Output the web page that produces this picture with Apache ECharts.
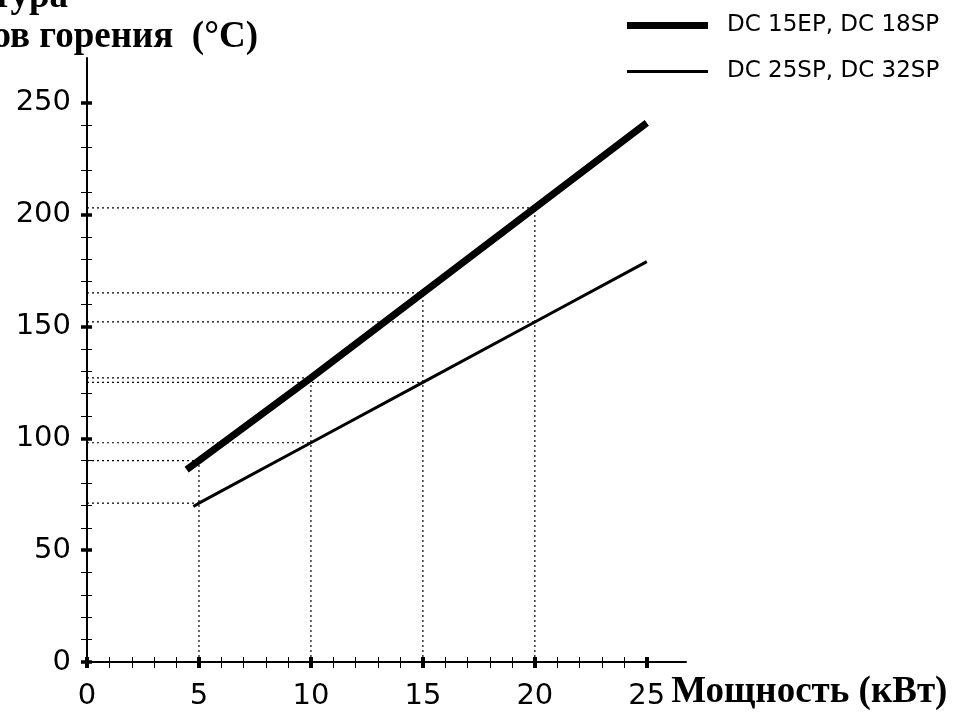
<!DOCTYPE html>
<html><head><meta charset="utf-8">
<script src="https://cdn.jsdelivr.net/npm/echarts@6/dist/echarts.min.js"></script>
<style>html,body{margin:0;padding:0;background:#fff}#c{width:978px;height:712px}</style>
</head><body><div id="c"></div>
<script>
// ---- data ----
const seriesNames = ['DC 15EP, DC 18SP', 'DC 25SP, DC 32SP'];
const powerThick = [4.45, 5, 10, 15, 20, 25];
const tempThick  = [86, 90, 127, 165, 203, 241];
const powerThin  = [4.75, 5, 10, 15, 20, 25];
const tempThin   = [69.5, 71, 98, 125, 152, 179];
// readings marked with dotted guide lines
const readingPower = [5, 10, 15, 20];
const readingThick = [90, 127, 165, 203];
const readingThin  = [71, 98, 125, 152];
// ticks
const xMajorTicks = [0, 5, 10, 15, 20, 25];
const xMinorTicks = [1, 2, 3, 4, 6, 7, 8, 9, 11, 12, 13, 14, 16, 17, 18, 19, 21, 22, 23, 24];
const yMajorTicks = [0, 50, 100, 150, 200, 250];
const yMinorTicks = [10, 20, 30, 40, 60, 70, 80, 90, 110, 120, 130, 140, 160, 170, 180, 190, 210, 220, 230, 240];
const xTitle = 'Мощность (кВт)';
const yTitleLines = ['Температура', 'газов горения  (°C)'];

const X_MAX = 26.75, Y_MAX = 270;
const sans = 'DejaVu Sans', serif = 'Liberation Serif';

function zip(xs, ys) { return xs.map((x, i) => [x, ys[i]]); }

const guideStyle = { color: '#000', width: 1.2, type: [2, 3] };
const guides = [];
readingPower.forEach((p, i) => {
  guides.push([[p, 0], [p, readingThick[i]]]);
  guides.push([[0, readingThick[i]], [p, readingThick[i]]]);
  guides.push([[0, readingThin[i]], [p, readingThin[i]]]);
});
const guideSeries = guides.map(g => ({
  type: 'line', data: g, symbol: 'none', silent: true, z: 1,
  lineStyle: guideStyle, animation: false
}));

function baseAxis(extra) {
  return Object.assign({
    type: 'value', min: 0, splitLine: { show: false },
    axisLine: { show: false }, axisTick: { show: false }, axisLabel: { show: false }
  }, extra);
}
const tickAxisX = (vals, w) => baseAxis({
  max: X_MAX, position: 'bottom', offset: -5,
  axisTick: { show: true, customValues: vals, length: 11, lineStyle: { color: '#000', width: w } }
});
const tickAxisY = (vals, w) => baseAxis({
  max: Y_MAX, position: 'left', offset: -5,
  axisTick: { show: true, customValues: vals, length: 11, lineStyle: { color: '#000', width: w } }
});

const titleFont = { fontFamily: serif, fontWeight: 'bold', fontSize: 37, fill: '#000' };

const chart = echarts.init(document.getElementById('c'), null, { renderer: 'canvas' });
chart.setOption({
  backgroundColor: '#fff',
  animation: false,
  graphic: [
    { type: 'text', x: 68, y: -3, silent: true,
      style: Object.assign({ text: yTitleLines[0], align: 'right', verticalAlign: 'middle' }, titleFont) },
    { type: 'text', x: 258, y: 37, silent: true,
      style: Object.assign({ text: yTitleLines[1], align: 'right', verticalAlign: 'middle' }, titleFont) }
  ],
  legend: [
    { data: [seriesNames[0]], left: 627, top: 14, padding: 0, icon: 'rect',
      itemWidth: 81, itemHeight: 7, itemStyle: { borderWidth: 0 },
      textStyle: { fontFamily: sans, fontSize: 23, color: '#000', padding: [0, 0, 0, 14] } },
    { data: [seriesNames[1]], left: 627, top: 60, padding: 0, icon: 'rect',
      itemWidth: 81, itemHeight: 3, itemStyle: { borderWidth: 0 },
      textStyle: { fontFamily: sans, fontSize: 23, color: '#000', padding: [0, 0, 0, 14] } }
  ],
  grid: { left: 87, right: 292, top: 58, bottom: 50, containLabel: false },
  xAxis: [
    baseAxis({
      max: X_MAX, position: 'bottom',
      axisLine: { show: true, lineStyle: { color: '#000', width: 2 } },
      axisLabel: { show: true, customValues: xMajorTicks, margin: 20,
        fontFamily: sans, fontSize: 29, color: '#000' },
      name: xTitle, nameLocation: 'end', nameGap: -18,
      nameTextStyle: { fontFamily: serif, fontWeight: 'bold', fontSize: 37, color: '#000',
        align: 'left', verticalAlign: 'top', padding: [12, 0, 0, 0] }
    }),
    tickAxisX(xMajorTicks, 4),
    tickAxisX(xMinorTicks, 1)
  ],
  yAxis: [
    baseAxis({
      max: Y_MAX, position: 'left',
      axisLine: { show: true, lineStyle: { color: '#000', width: 2 } },
      axisLabel: { show: true, customValues: yMajorTicks, margin: 16,
        fontFamily: sans, fontSize: 29, color: '#000' }
    }),
    tickAxisY(yMajorTicks, 3.5),
    tickAxisY(yMinorTicks, 1)
  ],
  series: guideSeries.concat([
    { name: seriesNames[0], type: 'line', data: zip(powerThick, tempThick), symbol: 'none',
      color: '#000', z: 3, lineStyle: { color: '#000', width: 7, cap: 'butt' } },
    { name: seriesNames[1], type: 'line', data: zip(powerThin, tempThin), symbol: 'none',
      color: '#000', z: 3, lineStyle: { color: '#000', width: 3, cap: 'butt' } }
  ])
});
</script></body></html>
